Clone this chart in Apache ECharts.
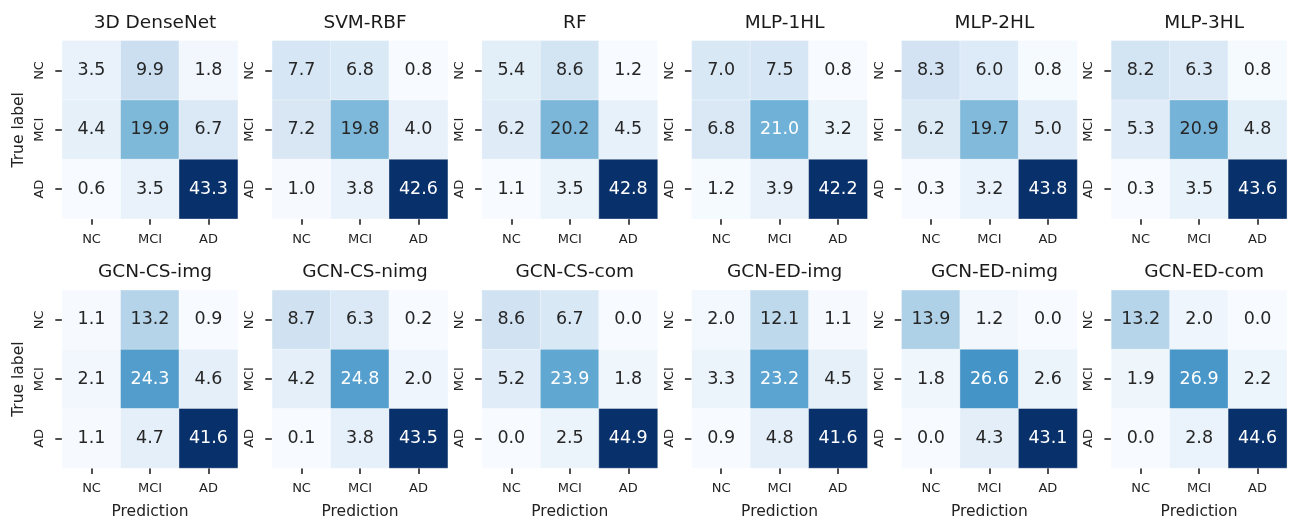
<!DOCTYPE html>
<html>
<head>
<meta charset="utf-8">
<script src="https://cdn.jsdelivr.net/npm/echarts@6/dist/echarts.min.js"></script>
<style>
html,body{margin:0;padding:0;background:#fff;}
#chart{width:1292px;height:521px;}
</style>
</head>
<body>
<div id="chart"></div>
<script>
// ---- data ----
const categories = ['NC', 'MCI', 'AD'];
const titles = ['3D DenseNet', 'SVM-RBF', 'RF', 'MLP-1HL', 'MLP-2HL', 'MLP-3HL',
                'GCN-CS-img', 'GCN-CS-nimg', 'GCN-CS-com', 'GCN-ED-img', 'GCN-ED-nimg', 'GCN-ED-com'];
// rows = true label (NC, MCI, AD), columns = prediction (NC, MCI, AD)
const denseNet3D = [[3.5, 9.9, 1.8], [4.4, 19.9, 6.7], [0.6, 3.5, 43.3]];
const svmRbf     = [[7.7, 6.8, 0.8], [7.2, 19.8, 4.0], [1.0, 3.8, 42.6]];
const rf         = [[5.4, 8.6, 1.2], [6.2, 20.2, 4.5], [1.1, 3.5, 42.8]];
const mlp1hl     = [[7.0, 7.5, 0.8], [6.8, 21.0, 3.2], [1.2, 3.9, 42.2]];
const mlp2hl     = [[8.3, 6.0, 0.8], [6.2, 19.7, 5.0], [0.3, 3.2, 43.8]];
const mlp3hl     = [[8.2, 6.3, 0.8], [5.3, 20.9, 4.8], [0.3, 3.5, 43.6]];
const gcnCsImg   = [[1.1, 13.2, 0.9], [2.1, 24.3, 4.6], [1.1, 4.7, 41.6]];
const gcnCsNimg  = [[8.7, 6.3, 0.2], [4.2, 24.8, 2.0], [0.1, 3.8, 43.5]];
const gcnCsCom   = [[8.6, 6.7, 0.0], [5.2, 23.9, 1.8], [0.0, 2.5, 44.9]];
const gcnEdImg   = [[2.0, 12.1, 1.1], [3.3, 23.2, 4.5], [0.9, 4.8, 41.6]];
const gcnEdNimg  = [[13.9, 1.2, 0.0], [1.8, 26.6, 2.6], [0.0, 4.3, 43.1]];
const gcnEdCom   = [[13.2, 2.0, 0.0], [1.9, 26.9, 2.2], [0.0, 2.8, 44.6]];
const matrices = [denseNet3D, svmRbf, rf, mlp1hl, mlp2hl, mlp3hl,
                  gcnCsImg, gcnCsNimg, gcnCsCom, gcnEdImg, gcnEdNimg, gcnEdCom];

// ---- style ----
const BLUES = ['#f7fbff','#deebf7','#c6dbef','#9ecae1','#6baed6','#4292c6','#2171b5','#08519c','#08306b'];
const FONT = 'DejaVu Sans';
const lefts = [62.3, 272.3, 482.1, 691.9, 901.7, 1111.4];
const tops = [40.8, 290.3];
const W = 175.4, H = 178;

function hex2rgb(h){return [1,3,5].map(i=>parseInt(h.substr(i,2),16));}
function bluesAt(t){
  t = Math.max(0, Math.min(1, t));
  const p = t * (BLUES.length - 1);
  const i = Math.min(Math.floor(p), BLUES.length - 2);
  const f = p - i;
  const a = hex2rgb(BLUES[i]), b = hex2rgb(BLUES[i+1]);
  return a.map((v,k)=>v + (b[k]-v)*f);
}
function lum(rgb){
  const c = rgb.map(v=>{v/=255; return v<=0.03928? v/12.92 : Math.pow((v+0.055)/1.055, 2.4);});
  return 0.2126*c[0] + 0.7152*c[1] + 0.0722*c[2];
}

const grid = [], xAxis = [], yAxis = [], series = [], visualMap = [], title = [];
matrices.forEach((m, idx) => {
  const row = Math.floor(idx / 6), col = idx % 6;
  const flat = m.flat();
  const vmin = Math.min(...flat), vmax = Math.max(...flat);
  grid.push({left: lefts[col], top: tops[row], width: W, height: H});
  title.push({
    text: titles[idx], left: lefts[col] + W/2, top: row === 0 ? 9 : 258, textAlign: 'center',
    textStyle: {fontFamily: FONT, fontSize: 18.5, fontWeight: 'normal', color: '#1a1a1a'}
  });
  xAxis.push({
    type: 'category', gridIndex: idx, data: categories, position: 'bottom',
    axisLine: {show: false},
    axisTick: {show: true, alignWithLabel: true, length: 6, lineStyle: {color: '#222', width: 1.6}},
    axisLabel: {fontFamily: FONT, fontSize: 13, color: '#222', margin: 14},
    splitLine: {show: false},
    name: row === 1 ? 'Prediction' : '', nameLocation: 'middle', nameGap: 36,
    nameTextStyle: {fontFamily: FONT, fontSize: 15.5, color: '#222'}
  });
  yAxis.push({
    type: 'category', gridIndex: idx, data: categories, inverse: true,
    axisLine: {show: false},
    axisTick: {show: true, alignWithLabel: true, length: 7, lineStyle: {color: '#222', width: 1.6}},
    axisLabel: {fontFamily: FONT, fontSize: 13, color: '#222', rotate: 90, margin: 16},
    splitLine: {show: false},
    name: col === 0 ? 'True label' : '', nameLocation: 'middle', nameGap: 35, nameRotate: 90,
    nameTextStyle: {fontFamily: FONT, fontSize: 15.5, color: '#222'}
  });
  const data = [];
  m.forEach((r, yi) => r.forEach((v, xi) => {
    const t = vmax > vmin ? (v - vmin) / (vmax - vmin) : 0;
    const dark = lum(bluesAt(t)) <= 0.408;
    data.push({value: [xi, yi, v], label: {color: dark ? '#ffffff' : '#262626'}});
  }));
  series.push({
    type: 'heatmap', xAxisIndex: idx, yAxisIndex: idx, data: data,
    itemStyle: {borderColor: 'rgba(255,255,255,0.6)', borderWidth: 0.6},
    label: {show: true, fontFamily: FONT, fontSize: 17.5,
            formatter: p => p.value[2].toFixed(1)},
    emphasis: {disabled: true}
  });
  visualMap.push({
    type: 'continuous', show: false, seriesIndex: idx, dimension: 2,
    min: vmin, max: vmax, inRange: {color: BLUES}
  });
});

const chart = echarts.init(document.getElementById('chart'), null, {renderer: 'canvas'});
chart.setOption({
  animation: false, backgroundColor: '#ffffff',
  title, grid, xAxis, yAxis, visualMap, series
});
</script>
</body>
</html>
